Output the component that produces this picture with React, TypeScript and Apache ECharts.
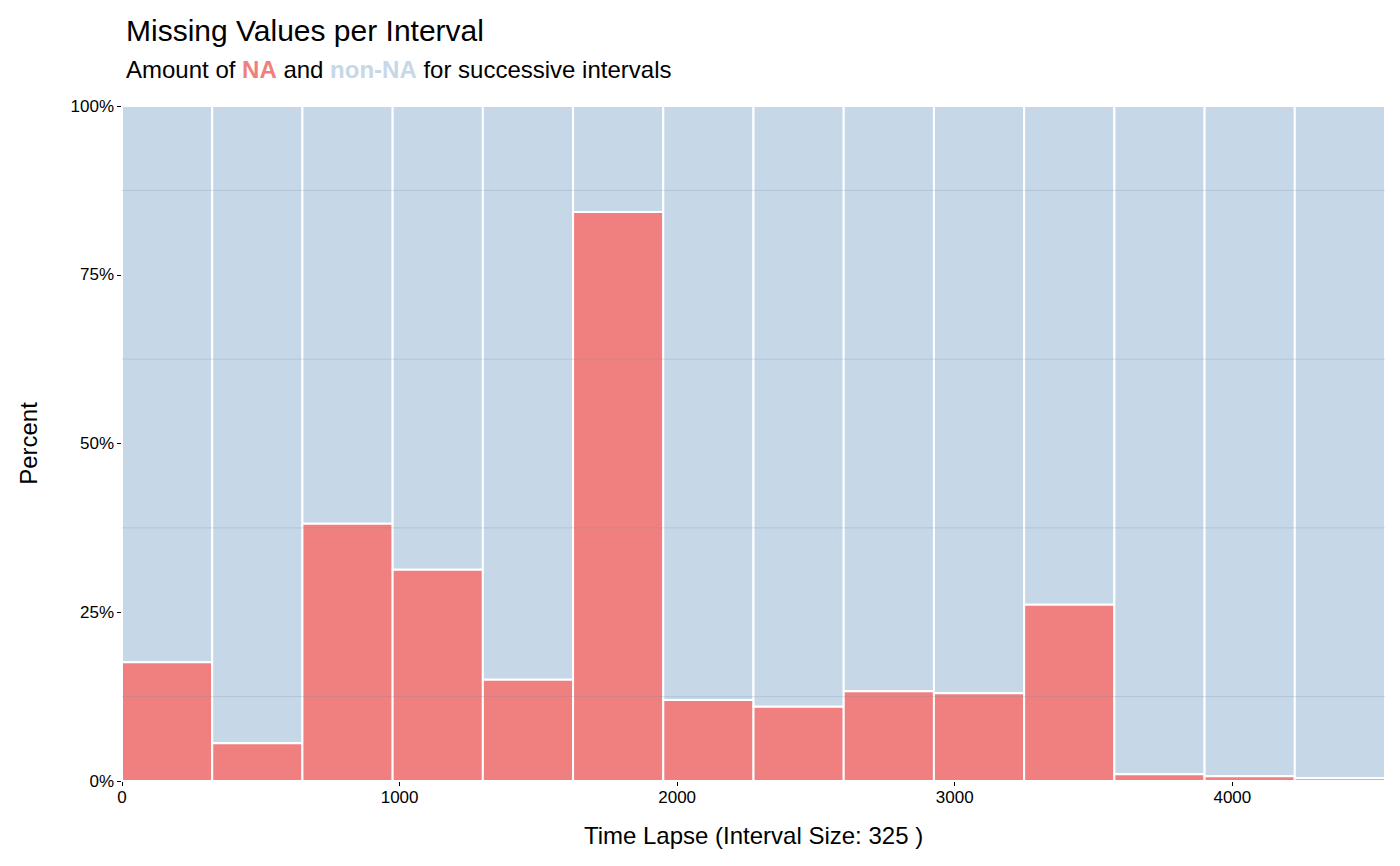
import React, { useEffect, useRef } from "react";
import * as echarts from "echarts";

const intervalSize = 325;
const naPercent = [17.6, 5.6, 38.1, 31.3, 15.0, 84.3, 12.0, 11.0, 13.3, 13.0, 26.1, 1.0, 0.7, 0.4];
const minorGrid = [12.5, 37.5, 62.5, 87.5];
const xTicks = [0, 1000, 2000, 3000, 4000];

export default function App() {
  const ref = useRef<HTMLDivElement>(null);
  useEffect(() => {
    const chart = echarts.init(ref.current!, null, { renderer: "svg" });
    const font = "Liberation Sans, Arial, sans-serif";
    const data = naPercent.map((v, i) => [i * intervalSize, (i + 1) * intervalSize, v]);
    const xMax = naPercent.length * intervalSize;
    chart.setOption({
      animation: false,
      textStyle: { fontFamily: font },
      title: {
        left: 121, top: 10,
        text: "Missing Values per Interval",
        textStyle: { fontSize: 30, fontWeight: "normal", color: "#000", fontFamily: font },
        subtext: "{n|Amount of }{na|NA}{n| and }{nn|non-NA}{n| for successive intervals}",
        itemGap: 12,
        subtextStyle: {
          rich: {
            n: { fontSize: 24, color: "#000", fontFamily: font },
            na: { fontSize: 24, color: "#F08080", fontWeight: "bold", fontFamily: font },
            nn: { fontSize: 24, color: "#C6D8E8", fontWeight: "bold", fontFamily: font },
          },
        },
      },
      grid: { left: 122, right: 15, top: 106, bottom: 85 },
      xAxis: {
        type: "value", min: 0, max: xMax, interval: 1000,
        name: "Time Lapse (Interval Size: 325 )", nameLocation: "middle", nameGap: 42,
        nameTextStyle: { fontSize: 24, color: "#000" },
        axisLine: { show: true, lineStyle: { color: "#000", width: 1 } },
        axisTick: { show: true, length: 5, lineStyle: { color: "#000" } },
        axisLabel: { fontSize: 17, color: "#000", showMaxLabel: false, formatter: (v: number) => (xTicks.includes(v) ? String(v) : "") },
        splitLine: { show: false },
      },
      yAxis: {
        type: "value", min: 0, max: 100, interval: 25,
        name: "Percent", nameLocation: "middle", nameGap: 82, nameRotate: 90,
        nameTextStyle: { fontSize: 24, color: "#000" },
        axisLine: { show: true, lineStyle: { color: "#000", width: 1 } },
        axisTick: { show: true, length: 5, lineStyle: { color: "#000" } },
        axisLabel: { fontSize: 17, color: "#000", formatter: "{value}%" },
        splitLine: { show: false },
      },
      series: [
        {
          type: "custom",
          data,
          renderItem: (params: any, api: any) => {
            const x0 = api.value(0), x1 = api.value(1), v = api.value(2);
            const pBL = api.coord([x0, 0]);
            const pV = api.coord([x1, v]);
            const pT = api.coord([x1, 100]);
            const w = pV[0] - pBL[0];
            return {
              type: "group",
              children: [
                { type: "rect", shape: { x: pBL[0], y: pT[1], width: w, height: pV[1] - pT[1] },
                  style: { fill: "#C6D8E8", stroke: "#fff", lineWidth: 2 } },
                { type: "rect", shape: { x: pBL[0], y: pV[1], width: w, height: pBL[1] - pV[1] },
                  style: { fill: "#F08080", stroke: "#fff", lineWidth: 2 } },
              ],
            };
          },
        },
        {
          type: "custom",
          data: minorGrid.map((g) => [g]),
          z: 5,
          silent: true,
          renderItem: (params: any, api: any) => {
            const a = api.coord([0, api.value(0)]);
            const b = api.coord([xMax, api.value(0)]);
            return { type: "line", shape: { x1: a[0], y1: a[1], x2: b[0], y2: b[1] },
              style: { stroke: "rgba(120,140,160,0.25)", lineWidth: 1 } };
          },
        },
      ],
    });
    return () => chart.dispose();
  }, []);
  return <div ref={ref} style={{ position: "absolute", left: 0, top: 0, width: 1400, height: 866 }} />;
}
